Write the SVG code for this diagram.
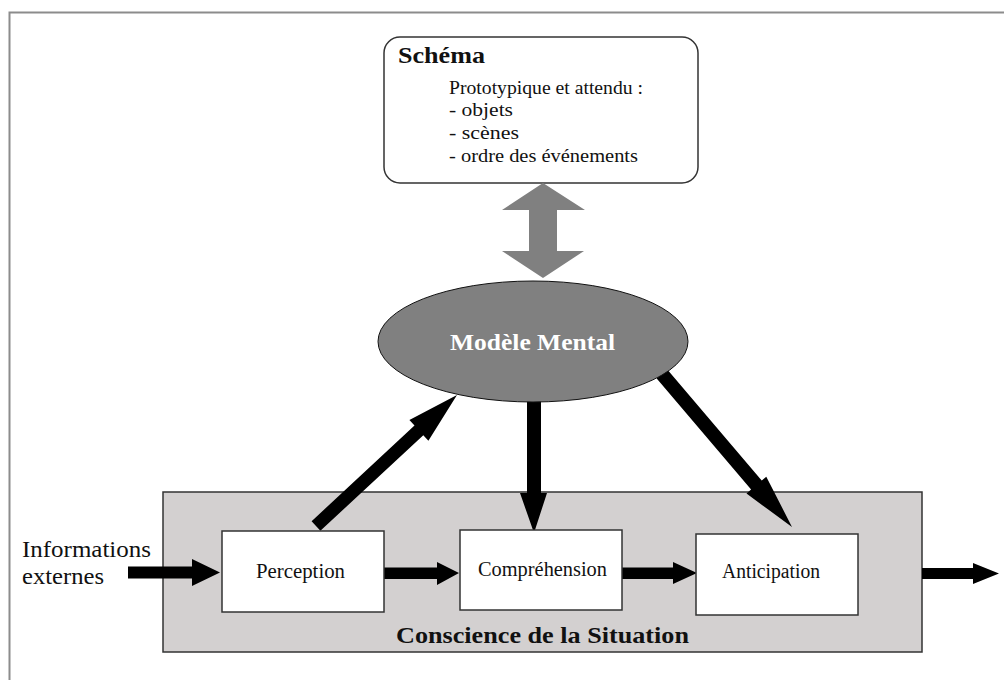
<svg xmlns="http://www.w3.org/2000/svg" width="1004" height="680" viewBox="0 0 1004 680">
<style>
.serif{font-family:"Liberation Serif",Tinos,"DejaVu Serif","Times New Roman",serif;fill:#111}
.box{fill:#fff;stroke:#333;stroke-width:1.5}
.arrow{fill:#000}
</style>
<rect width="1004" height="680" fill="#fff"/>
<path d="M9.5 680 V12.5 H1004" fill="none" stroke="#8c8c8c" stroke-width="2"/>

<g id="conscience">
<rect x="163" y="492" width="759" height="160" fill="#d3d0d0" stroke="#333" stroke-width="1.5"/>
<text class="serif" x="396" y="643" font-size="23" font-weight="bold" textLength="293" lengthAdjust="spacingAndGlyphs">Conscience de la Situation</text>
</g>

<g id="schema">
<rect x="384" y="37" width="314" height="146" rx="16" ry="16" fill="#fff" stroke="#333" stroke-width="1.5"/>
<text class="serif" x="398" y="63" font-size="23" font-weight="bold" textLength="87" lengthAdjust="spacingAndGlyphs">Schéma</text>
<text class="serif" font-size="19">
<tspan x="449" y="93.5" textLength="194" lengthAdjust="spacingAndGlyphs">Prototypique et attendu :</tspan>
<tspan x="449" y="116" textLength="64" lengthAdjust="spacingAndGlyphs">- objets</tspan>
<tspan x="449" y="139" textLength="70" lengthAdjust="spacingAndGlyphs">- scènes</tspan>
<tspan x="449" y="162" textLength="189" lengthAdjust="spacingAndGlyphs">- ordre des événements</tspan>
</text>
</g>

<g id="connectors">
<polygon id="double-arrow" fill="#808080" points="543,183 585,210 557,210 557,251 584,251 543,278 502,251 529,251 529,210 502,210"/>
<polygon class="arrow" points="527,390 541,390 541,493 547,493 534,533 520,493 527,493"/>
<polygon class="arrow" points="311.6,521.2 414.5,425.6 409.4,420.1 457,395 428.4,440.7 423.3,435.2 320.4,530.8"/>
<polygon class="arrow" points="656.7,378.5 751.1,489.6 746.5,493.5 792,527 766.3,476.7 761.7,480.6 667.3,369.5"/>
<polygon class="arrow" points="128,566.5 192,566.5 192,559 220,572.5 192,586 192,578.5 128,578.5"/>
<polygon class="arrow" points="384,567.5 437,567.5 437,562 459,573 437,585 437,579 384,579"/>
<polygon class="arrow" points="622,567.5 673,567.5 673,562 697,573 673,584 673,579 622,579"/>
<polygon class="arrow" points="922,568 973,568 973,563 999,573.5 973,584 973,579 922,579"/>
</g>

<g id="modele-mental">
<ellipse cx="533" cy="341.5" rx="155" ry="60.5" fill="#808080" stroke="#111" stroke-width="1"/>
<text class="serif" x="450" y="349.5" font-size="24" font-weight="bold" style="fill:#fff" textLength="165" lengthAdjust="spacingAndGlyphs">Modèle Mental</text>
</g>

<g id="perception">
<rect class="box" x="222" y="531" width="162" height="81"/>
<text class="serif" x="256" y="578" font-size="20" textLength="89" lengthAdjust="spacingAndGlyphs">Perception</text>
</g>

<g id="comprehension">
<rect class="box" x="460" y="530" width="162" height="80"/>
<text class="serif" x="478" y="576" font-size="20" textLength="129" lengthAdjust="spacingAndGlyphs">Compréhension</text>
</g>

<g id="anticipation">
<rect class="box" x="696" y="534" width="162" height="81"/>
<text class="serif" x="722" y="578" font-size="20" textLength="98" lengthAdjust="spacingAndGlyphs">Anticipation</text>
</g>

<g id="informations">
<text class="serif" font-size="23">
<tspan x="22" y="557" textLength="129" lengthAdjust="spacingAndGlyphs">Informations</tspan>
<tspan x="22" y="584" textLength="82" lengthAdjust="spacingAndGlyphs">externes</tspan>
</text>
</g>
</svg>
